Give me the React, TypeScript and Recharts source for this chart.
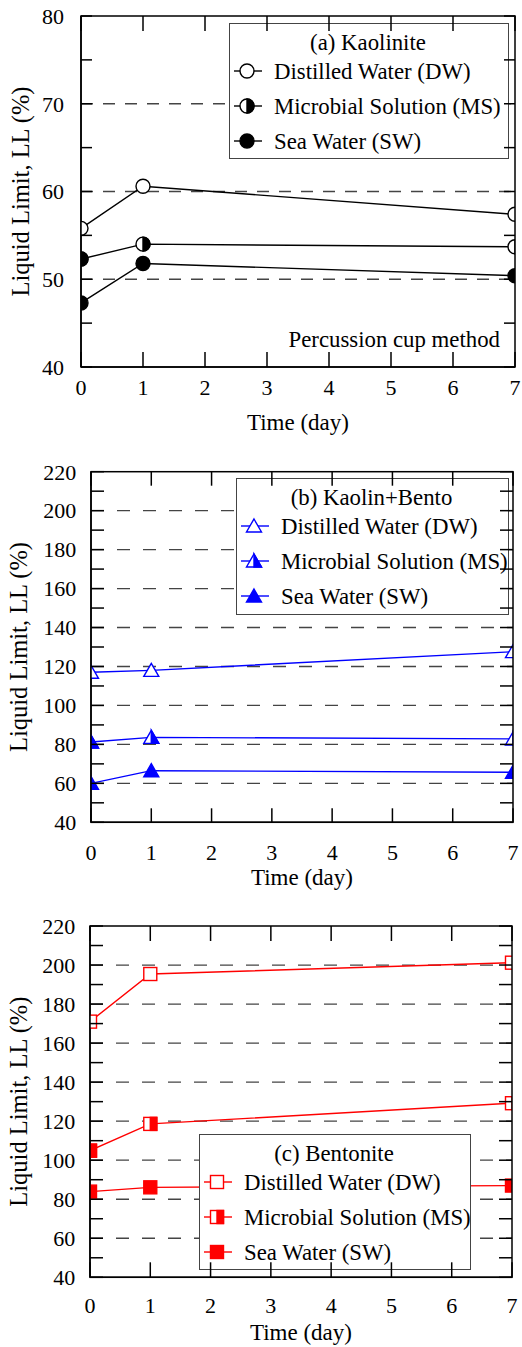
import React from "react";
import { Legend, Line, LineChart, ReferenceLine, XAxis, YAxis } from "recharts";

const FONT = '"Liberation Serif", "Times New Roman", serif';

// time axis
const days = [0, 1, 7];
const dayTicks = [0, 1, 2, 3, 4, 5, 6, 7];

// (a) Kaolinite, liquid limit (%)
const kaoDW = [55.8, 60.6, 57.4];
const kaoMS = [52.3, 54.0, 53.7];
const kaoSW = [47.3, 51.8, 50.4];
const kaoTicks = [40, 45, 50, 55, 60, 65, 70, 75, 80];
const kaoGrid = [50, 60, 70];

// (b) Kaolin+Bento
const kbDW = [117, 118, 127.6];
const kbMS = [81.2, 83.6, 82.8];
const kbSW = [60, 66.5, 65.7];

// (c) Bentonite
const benDW = [171, 195.4, 201.2];
const benMS = [104.9, 118.6, 129.2];
const benSW = [83.9, 86.1, 87];

const llTicks = [40, 50, 60, 70, 80, 90, 100, 110, 120, 130, 140, 150, 160, 170, 180, 190, 200, 210, 220];
const llGrid = [60, 80, 100, 120, 140, 160, 180, 200];

const seriesKeys = ["dw", "ms", "sw"];
const seriesNames = ["Distilled Water (DW)", "Microbial Solution (MS)", "Sea Water (SW)"];
const fillModes: Record<string, string> = { dw: "open", ms: "half", sw: "full" };

type Shape = "circle" | "triangle" | "square";

const CHART_W = 522;

function Marker({ cx, cy, shape, mode, color }: any) {
  if (cx == null || cy == null) return null;
  const body = mode === "full" ? color : "#fff";
  const sw = 1.4;
  if (shape === "circle") {
    const r = 7;
    return (
      <g>
        <circle cx={cx} cy={cy} r={r} fill={body} stroke={color} strokeWidth={sw} />
        {mode === "half" && (
          <path d={`M${cx},${cy - r} A${r},${r} 0 0 1 ${cx},${cy + r} Z`} fill={color} stroke={color} strokeWidth={sw} />
        )}
      </g>
    );
  }
  if (shape === "triangle") {
    const hw = 7.5;
    const top = cy - 7;
    const bot = cy + 6;
    return (
      <g>
        <polygon points={`${cx},${top} ${cx + hw},${bot} ${cx - hw},${bot}`} fill={body} stroke={color} strokeWidth={sw} />
        {mode === "half" && (
          <polygon points={`${cx},${top} ${cx + hw},${bot} ${cx},${bot}`} fill={color} stroke={color} strokeWidth={sw} />
        )}
      </g>
    );
  }
  const h = 6.5;
  return (
    <g>
      <rect x={cx - h} y={cy - h} width={2 * h} height={2 * h} fill={body} stroke={color} strokeWidth={sw} />
      {mode === "half" && <rect x={cx} y={cy - h} width={h} height={2 * h} fill={color} stroke={color} strokeWidth={sw} />}
    </g>
  );
}

function LegendBox({ payload, title, shape, color, w, h }: any) {
  const items = (payload || [])
    .filter((it: any) => seriesNames.includes(it.value))
    .sort((a: any, b: any) => seriesNames.indexOf(a.value) - seriesNames.indexOf(b.value));
  return (
    <svg width={w} height={h} style={{ display: "block", background: "#fff" }}>
      <rect x={0.5} y={0.5} width={w - 1} height={h - 1} fill="#fff" stroke="#444" strokeWidth={1} />
      <text x={w / 2 - 1} y={27} textAnchor="middle" fontFamily={FONT} fontSize={22.8} fill="#000">
        {title}
      </text>
      {items.map((it: any, i: number) => {
        const base = 55.5 + i * 35;
        const cy = base - 7.5;
        return (
          <g key={it.value}>
            <line x1={5} x2={33} y1={cy} y2={cy} stroke={color} strokeWidth={1.4} />
            <Marker cx={18} cy={cy} shape={shape} mode={fillModes[it.dataKey]} color={color} />
            <text x={45} y={base} fontFamily={FONT} fontSize={22.8} fill="#000">
              {it.value}
            </text>
          </g>
        );
      })}
    </svg>
  );
}

type PanelCfg = {
  title: string;
  color: string;
  shape: Shape;
  dw: number[];
  ms: number[];
  sw: number[];
  yDomain: [number, number];
  yTicks: number[];
  labelEvery: number;
  grid: number[];
  top: number;
  height: number;
  mt: number;
  mr: number;
  yAxisW: number;
  xAxisH: number;
  yTick: number;
  xTick: number;
  yTickMargin: number;
  xTickMargin: number;
  yLabelOffset: number;
  xLabelOffset: number;
  dash: string;
  legend: { left: number; top: number; w: number; h: number };
  note?: string;
};

const panels: PanelCfg[] = [
  {
    title: "(a) Kaolinite",
    color: "#000",
    shape: "circle",
    dw: kaoDW,
    ms: kaoMS,
    sw: kaoSW,
    yDomain: [40, 80],
    yTicks: kaoTicks,
    labelEvery: 10,
    grid: kaoGrid,
    top: 0,
    height: 440,
    mt: 16,
    mr: 7,
    yAxisW: 81,
    xAxisH: 73,
    yTick: 11,
    xTick: 15,
    yTickMargin: 28,
    xTickMargin: 27,
    yLabelOffset: 20,
    xLabelOffset: 10,
    dash: "12 10",
    legend: { left: 229, top: 23, w: 280, h: 136 },
    note: "Percussion cup method",
  },
  {
    title: "(b) Kaolin+Bento",
    color: "#0000ff",
    shape: "triangle",
    dw: kbDW,
    ms: kbMS,
    sw: kbSW,
    yDomain: [40, 220],
    yTicks: llTicks,
    labelEvery: 20,
    grid: llGrid,
    top: 440,
    height: 455,
    mt: 31.7,
    mr: 9,
    yAxisW: 91,
    xAxisH: 72.7,
    yTick: 13,
    xTick: 14,
    yTickMargin: 27.7,
    xTickMargin: 36,
    yLabelOffset: 18,
    xLabelOffset: 10,
    dash: "13 13",
    legend: { left: 236, top: 37.7, w: 273, h: 137 },
  },
  {
    title: "(c) Bentonite",
    color: "#ff0000",
    shape: "square",
    dw: benDW,
    ms: benMS,
    sw: benSW,
    yDomain: [40, 220],
    yTicks: llTicks,
    labelEvery: 20,
    grid: llGrid,
    top: 895,
    height: 452,
    mt: 31,
    mr: 10,
    yAxisW: 90,
    xAxisH: 69.7,
    yTick: 13,
    xTick: 15,
    yTickMargin: 27.7,
    xTickMargin: 35.4,
    yLabelOffset: 18,
    xLabelOffset: 7,
    dash: "13 13",
    legend: { left: 199, top: 239.3, w: 272, h: 136 },
  },
];

const axisStroke = { stroke: "#000", strokeWidth: 1.5 };
const tickFont = { fill: "#000", fontSize: 22, fontFamily: FONT };

// box frame with inward ticks on all four sides, laid over the plot area
function Frame({ cfg }: { cfg: PanelCfg }) {
  const left = cfg.yAxisW;
  const top = cfg.mt;
  const w = CHART_W - cfg.yAxisW - cfg.mr;
  const h = cfg.height - cfg.mt - cfg.xAxisH;
  const [y0, y1] = cfg.yDomain;
  const px = (d: number) => left + (d / dayTicks[dayTicks.length - 1]) * w;
  const py = (v: number) => top + ((y1 - v) / (y1 - y0)) * h;
  return (
    <svg
      width={CHART_W}
      height={cfg.height}
      style={{ position: "absolute", left: 0, top: 0, pointerEvents: "none" }}
    >
      <g stroke="#000" strokeWidth={1.5} fill="none">
        <rect x={left} y={top} width={w} height={h} />
        {dayTicks.map((d) => (
          <g key={`x${d}`}>
            <line x1={px(d)} x2={px(d)} y1={top} y2={top + cfg.xTick} />
            <line x1={px(d)} x2={px(d)} y1={top + h - cfg.xTick} y2={top + h} />
          </g>
        ))}
        {cfg.yTicks.map((v) => (
          <g key={`y${v}`}>
            <line x1={left} x2={left + cfg.yTick} y1={py(v)} y2={py(v)} />
            <line x1={left + w - cfg.yTick} x2={left + w} y1={py(v)} y2={py(v)} />
          </g>
        ))}
      </g>
    </svg>
  );
}

function Panel({ cfg }: { cfg: PanelCfg }) {
  const data = days.map((d, i) => ({ day: d, dw: cfg.dw[i], ms: cfg.ms[i], sw: cfg.sw[i] }));
  const [yMin] = cfg.yDomain;
  return (
    <div style={{ position: "absolute", left: 0, top: cfg.top, width: CHART_W, height: cfg.height }}>
      <LineChart
        width={CHART_W}
        height={cfg.height}
        data={data}
        margin={{ top: cfg.mt, right: cfg.mr, left: 0, bottom: 0 }}
      >
        <XAxis
          dataKey="day"
          type="number"
          domain={[0, 7]}
          allowDataOverflow
          ticks={dayTicks}
          interval={0}
          height={cfg.xAxisH}
          tickSize={-cfg.xTick}
          tickMargin={cfg.xTickMargin}
          axisLine={axisStroke}
          tickLine={false}
          tick={tickFont}
          label={{
            value: "Time (day)",
            position: "insideBottom",
            offset: cfg.xLabelOffset,
            fill: "#000",
            fontSize: 23,
            fontFamily: FONT,
          }}
        />
        <YAxis
          type="number"
          domain={cfg.yDomain}
          allowDataOverflow
          ticks={cfg.yTicks}
          interval={0}
          width={cfg.yAxisW}
          tickSize={-cfg.yTick}
          tickMargin={cfg.yTickMargin}
          axisLine={axisStroke}
          tickLine={false}
          tick={tickFont}
          tickFormatter={(v: number) => (v % cfg.labelEvery === 0 ? String(v) : "")}
          label={{
            value: "Liquid Limit, LL (%)",
            angle: -90,
            position: "insideLeft",
            offset: cfg.yLabelOffset,
            fill: "#000",
            fontSize: 24.5,
            fontFamily: FONT,
            style: { textAnchor: "middle" },
          }}
        />
        {cfg.grid.map((v) => (
          <ReferenceLine key={`g${v}`} y={v} stroke="#444" strokeWidth={1.3} strokeDasharray={cfg.dash} />
        ))}
        {cfg.note && (
          <ReferenceLine
            y={yMin}
            stroke="none"
            label={(p: any) => (
              <text
                x={p.viewBox.x + p.viewBox.width - 15}
                y={p.viewBox.y - 20}
                textAnchor="end"
                fontFamily={FONT}
                fontSize={22.8}
                fill="#000"
              >
                {cfg.note}
              </text>
            )}
          />
        )}
        {seriesKeys.map((k, i) => (
          <Line
            key={k}
            dataKey={k}
            name={seriesNames[i]}
            stroke={cfg.color}
            strokeWidth={1.4}
            isAnimationActive={false}
            activeDot={false}
            dot={(p: any) => (
              <Marker
                key={`${k}-${p.index}`}
                cx={p.cx}
                cy={p.cy}
                shape={cfg.shape}
                mode={fillModes[k]}
                color={cfg.color}
              />
            )}
          />
        ))}
        <Legend
          layout="vertical"
          align="center"
          verticalAlign="middle"
          wrapperStyle={{
            left: cfg.legend.left,
            top: cfg.legend.top,
            width: cfg.legend.w,
            height: cfg.legend.h,
          }}
          content={(p: any) => (
            <LegendBox
              payload={p.payload}
              title={cfg.title}
              shape={cfg.shape}
              color={cfg.color}
              w={cfg.legend.w}
              h={cfg.legend.h}
            />
          )}
        />
      </LineChart>
      <Frame cfg={cfg} />
    </div>
  );
}

export default function App() {
  return (
    <div style={{ position: "absolute", left: 0, top: 0, width: CHART_W, height: 1347, background: "#fff" }}>
      {panels.map((cfg) => (
        <Panel key={cfg.title} cfg={cfg} />
      ))}
    </div>
  );
}
